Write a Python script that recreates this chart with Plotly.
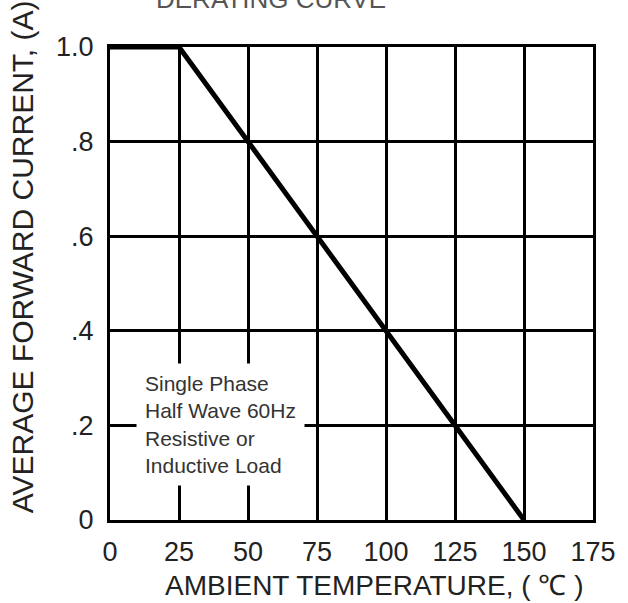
import plotly.graph_objects as go

temp_c = [0, 25, 150]
current_a = [1.0, 1.0, 0.0]
x_ticks = [0, 25, 50, 75, 100, 125, 150, 175]
x_tick_labels = ["0", "25", "50", "75", "100", "125", "150", "175"]
y_ticks = [0, 0.2, 0.4, 0.6, 0.8, 1.0]
y_tick_labels = ["0", ".2", ".4", ".6", ".8", "1.0"]

FONT = "Liberation Sans, Arial, sans-serif"

fig = go.Figure()
fig.add_trace(go.Scatter(x=temp_c, y=current_a, mode="lines",
                         line=dict(color="black", width=5), showlegend=False,
                         cliponaxis=False))

fig.add_annotation(x=40, y=0.202, xref="x", yref="y",
                   text="Single Phase<br>Half Wave 60Hz<br>Resistive or<br>Inductive Load",
                   showarrow=False, align="left", xanchor="center", yanchor="middle",
                   bgcolor="white", borderpad=8,
                   font=dict(family=FONT, size=21, color="#333"))

fig.add_annotation(x=0.333, y=1.066, xref="paper", yref="paper",
                   text="DERATING CURVE", showarrow=False,
                   xanchor="center", yanchor="bottom",
                   font=dict(family=FONT, size=26, color="#555"))

# axis titles
fig.add_annotation(x=0.547, y=-0.1395, xref="paper", yref="paper",
                   text="AMBIENT TEMPERATURE, ( ℃ )", showarrow=False,
                   xanchor="center", yanchor="middle",
                   font=dict(family=FONT, size=28, color="#222"))
fig.add_annotation(x=-0.1816, y=0.556, xref="paper", yref="paper",
                   text="AVERAGE FORWARD CURRENT, (A)", showarrow=False,
                   textangle=-90, xanchor="center", yanchor="middle",
                   font=dict(family=FONT, size=30, color="#222"))

fig.update_xaxes(range=[0, 175], tickvals=x_ticks, ticktext=x_tick_labels,
                 showgrid=True, gridcolor="black", gridwidth=2.5,
                 showline=True, linecolor="black", linewidth=3, mirror=True,
                 ticks="", zeroline=False, ticklabelstandoff=6,
                 tickfont=dict(family=FONT, size=27, color="#222"))
fig.update_yaxes(range=[0, 1.0], tickvals=y_ticks, ticktext=y_tick_labels,
                 showgrid=True, gridcolor="black", gridwidth=2.5,
                 showline=True, linecolor="black", linewidth=3, mirror=True,
                 ticks="", zeroline=False, ticklabelstandoff=8,
                 tickfont=dict(family=FONT, size=27, color="#222"))

fig.update_layout(width=628, height=603,
                  margin=dict(l=110, r=28, t=47, b=83),
                  plot_bgcolor="white", paper_bgcolor="white")

fig.write_html("out.html", config={"displayModeBar": False},
               post_script="document.body.style.margin='0';document.body.style.overflow='hidden';")
